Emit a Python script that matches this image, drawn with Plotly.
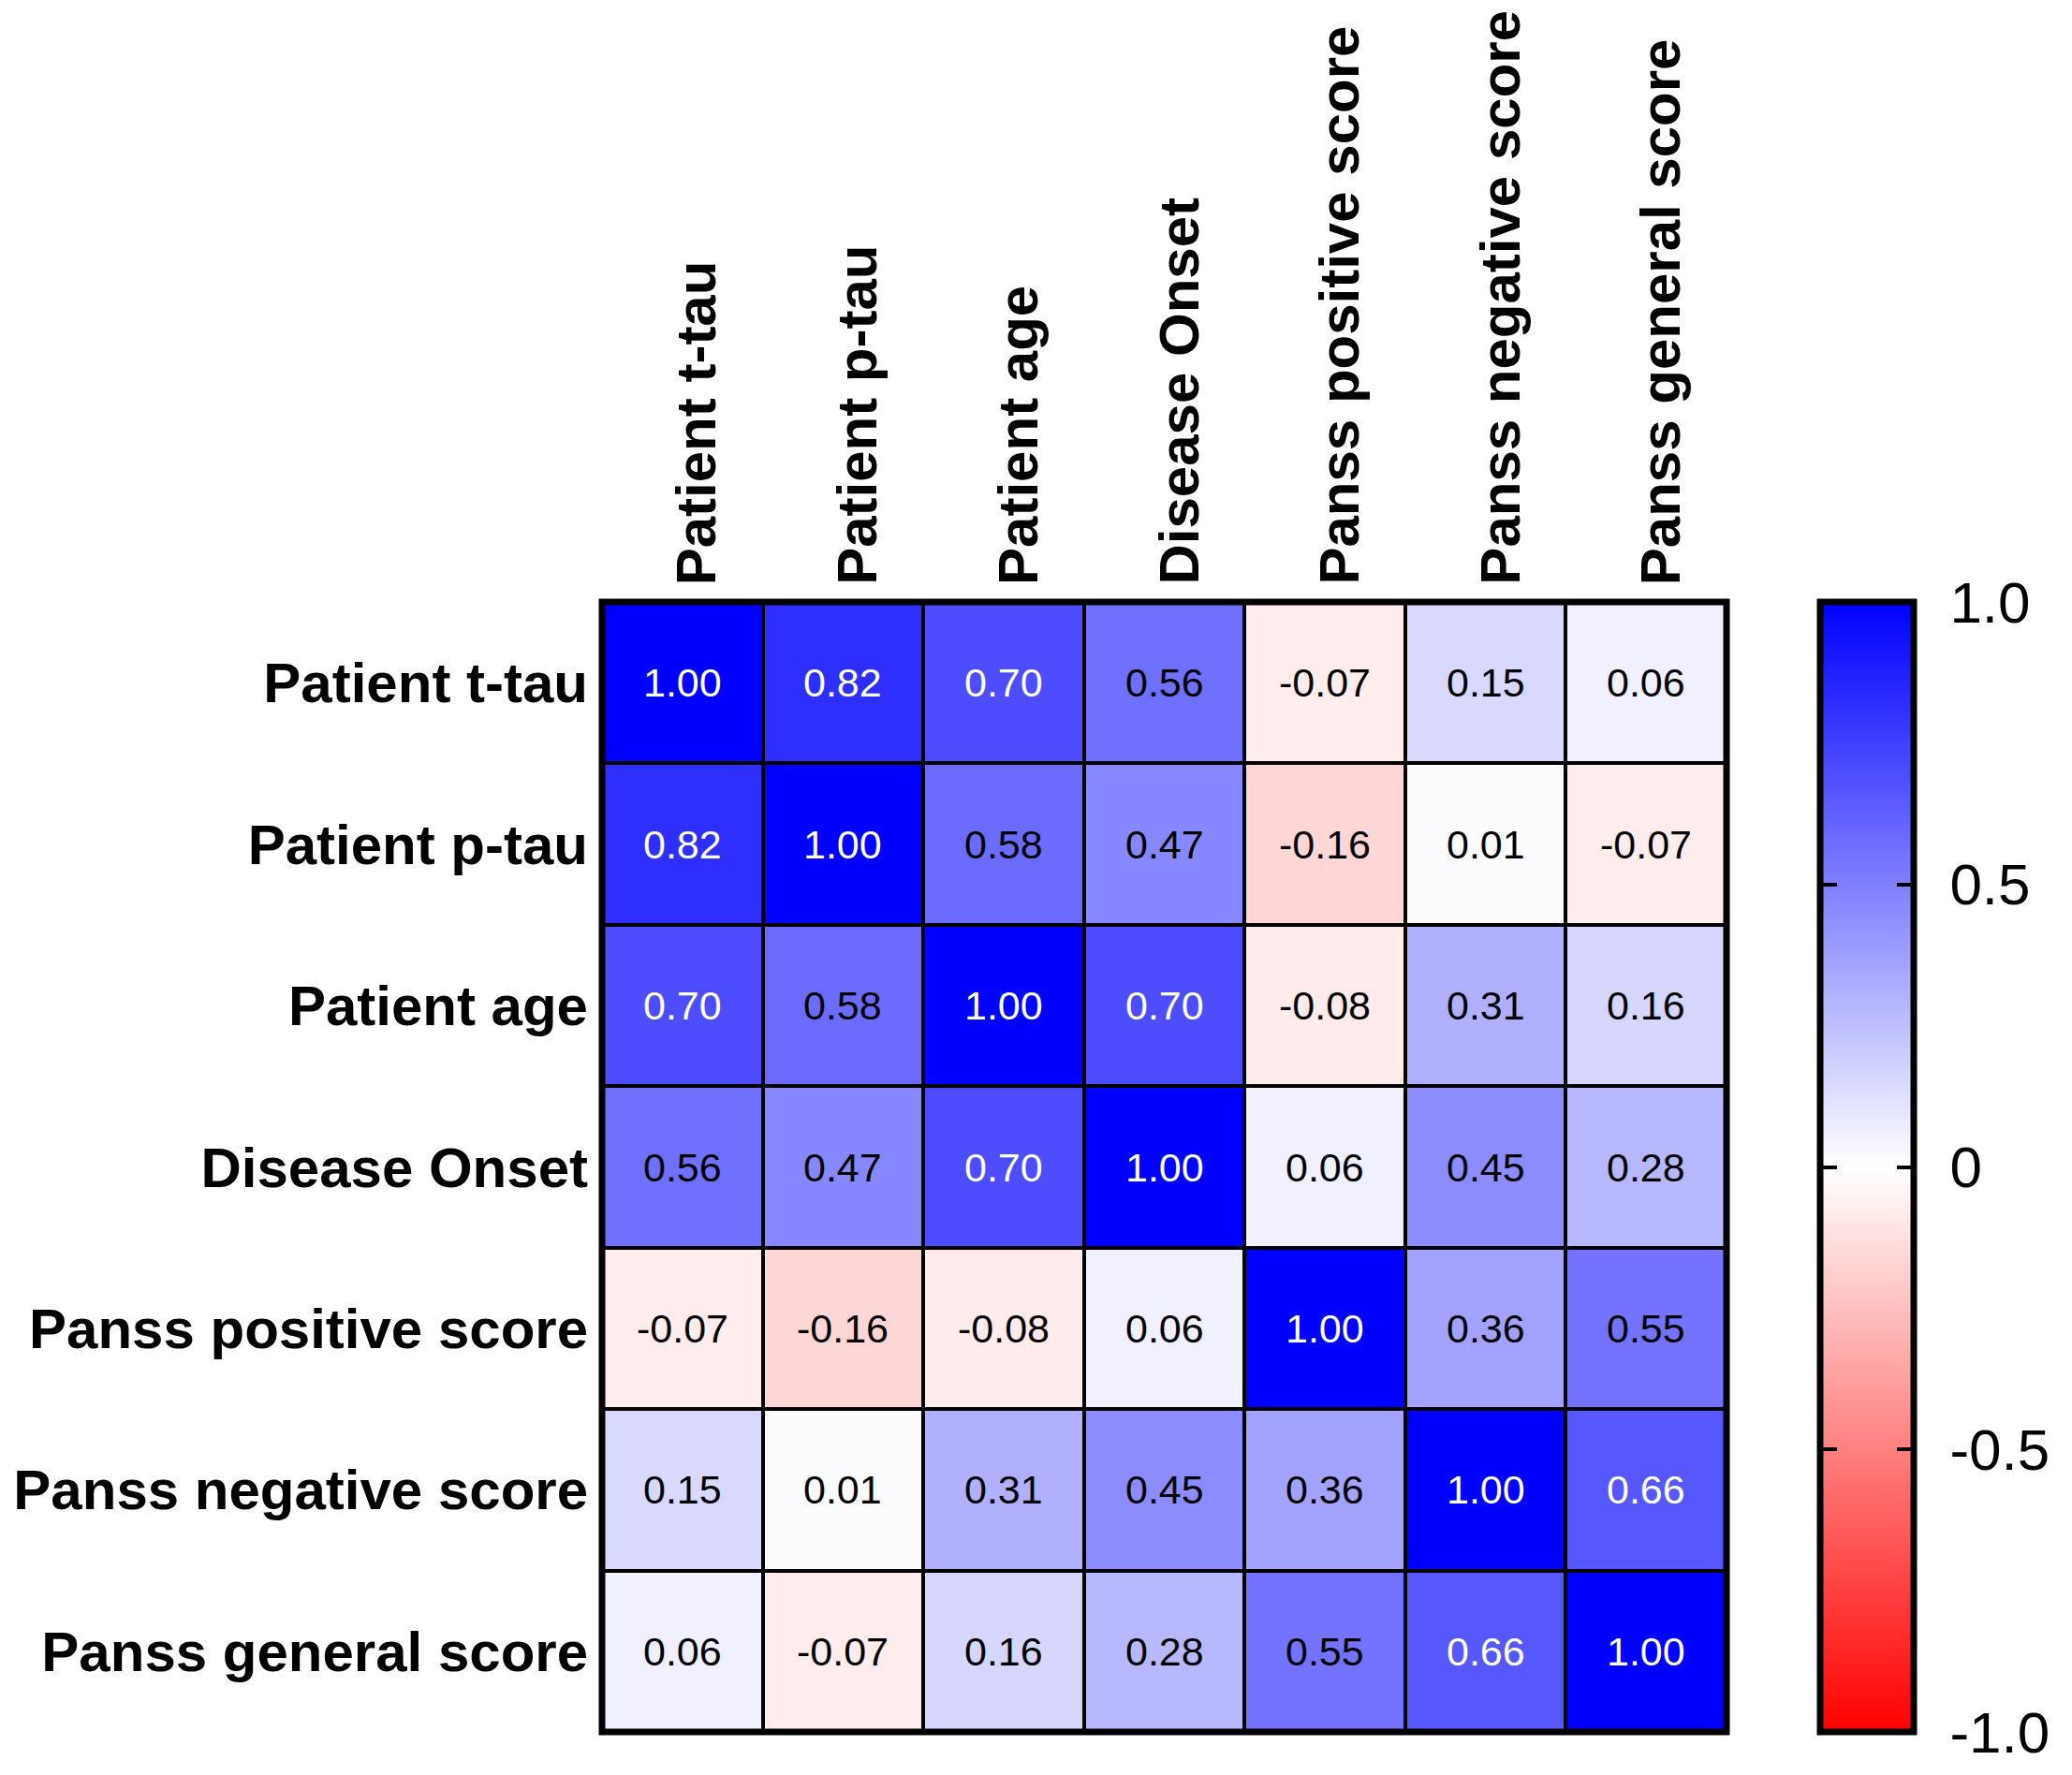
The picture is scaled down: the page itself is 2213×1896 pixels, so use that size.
import numpy as np
import plotly.graph_objects as go

labels = ["Patient t-tau", "Patient p-tau", "Patient age", "Disease Onset",
          "Panss positive score", "Panss negative score", "Panss general score"]

row_t_tau = [1.00, 0.82, 0.70, 0.56, -0.07, 0.15, 0.06]
row_p_tau = [0.82, 1.00, 0.58, 0.47, -0.16, 0.01, -0.07]
row_age = [0.70, 0.58, 1.00, 0.70, -0.08, 0.31, 0.16]
row_onset = [0.56, 0.47, 0.70, 1.00, 0.06, 0.45, 0.28]
row_pos = [-0.07, -0.16, -0.08, 0.06, 1.00, 0.36, 0.55]
row_neg = [0.15, 0.01, 0.31, 0.45, 0.36, 1.00, 0.66]
row_gen = [0.06, -0.07, 0.16, 0.28, 0.55, 0.66, 1.00]
matrix = [row_t_tau, row_p_tau, row_age, row_onset, row_pos, row_neg, row_gen]

cbar_tickvals = [-1.0, -0.5, 0.0, 0.5, 1.0]
cbar_ticktext = ["-1.0", "-0.5", "0", "0.5", "1.0"]

colorscale = [[0.0, "#FF0000"], [0.5, "#FFFFFF"], [1.0, "#0000FF"]]
FONT = "Liberation Sans, Arial, sans-serif"

W, H = 2213, 1896
hx0, hx1 = 643 / W, 1844 / W
hy0, hy1 = 1 - 1850 / H, 1 - 643 / H
cx0, cx1 = 1944 / W, 2044 / W

fig = go.Figure()
fig.add_trace(go.Heatmap(
    z=matrix, x=labels, y=labels, zmin=-1, zmax=1,
    colorscale=colorscale, showscale=False, xgap=4, ygap=4,
    xaxis="x", yaxis="y", hoverinfo="skip"))

# colorbar as a gradient on its own axes
grad = np.linspace(-1, 1, 401)
fig.add_trace(go.Heatmap(
    z=[[v] for v in grad], y=grad, x=[0], zmin=-1, zmax=1,
    colorscale=colorscale, showscale=False, zsmooth="best",
    xaxis="x2", yaxis="y2", hoverinfo="skip"))

annotations = []
for i, rlab in enumerate(labels):
    for j, clab in enumerate(labels):
        v = matrix[i][j]
        annotations.append(dict(
            x=clab, y=rlab, xref="x", yref="y", text=f"{v:.2f}", showarrow=False,
            font=dict(family=FONT, size=43, color="white" if v > 0.6 else "black")))

# column labels (rotated, above the matrix)
for clab in labels:
    annotations.append(dict(
        x=clab, xref="x", y=1, yref="y domain", text=clab, showarrow=False,
        textangle=-90, xanchor="center", yanchor="bottom", xshift=15, yshift=16,
        font=dict(family=FONT, size=60, color="black", weight="bold")))

fig.update_layout(
    width=W, height=H, margin=dict(l=0, r=0, t=0, b=0),
    paper_bgcolor="white", plot_bgcolor="black",
    annotations=annotations,
    xaxis=dict(domain=[hx0, hx1], side="top", showticklabels=False, showgrid=False,
               zeroline=False, ticks="", automargin=False),
    yaxis=dict(domain=[hy0, hy1], autorange="reversed", showgrid=False,
               zeroline=False, ticks="", automargin=False,
               tickfont=dict(family=FONT, size=60, color="black", weight="bold"),
               ticklabelstandoff=14),
    xaxis2=dict(domain=[cx0, cx1], anchor="y2", showticklabels=False, showgrid=False,
                zeroline=False, ticks="", automargin=False),
    yaxis2=dict(domain=[hy0, hy1], anchor="x2", side="right", range=[-1, 1],
                showgrid=False, zeroline=False, automargin=False,
                tickvals=cbar_tickvals, ticktext=cbar_ticktext,
                ticks="inside", ticklen=18, tickwidth=4, tickcolor="black",
                mirror="ticks", showline=True, linecolor="black", linewidth=1,
                tickfont=dict(family=FONT, size=62, color="black"),
                ticklabelstandoff=25),
    shapes=[
        dict(type="rect", xref="paper", yref="paper", x0=hx0, x1=hx1, y0=hy0, y1=hy1,
             line=dict(color="black", width=7)),
        dict(type="rect", xref="paper", yref="paper", x0=cx0, x1=cx1, y0=hy0, y1=hy1,
             line=dict(color="black", width=7)),
    ],
)

fig.write_html("out.html")
